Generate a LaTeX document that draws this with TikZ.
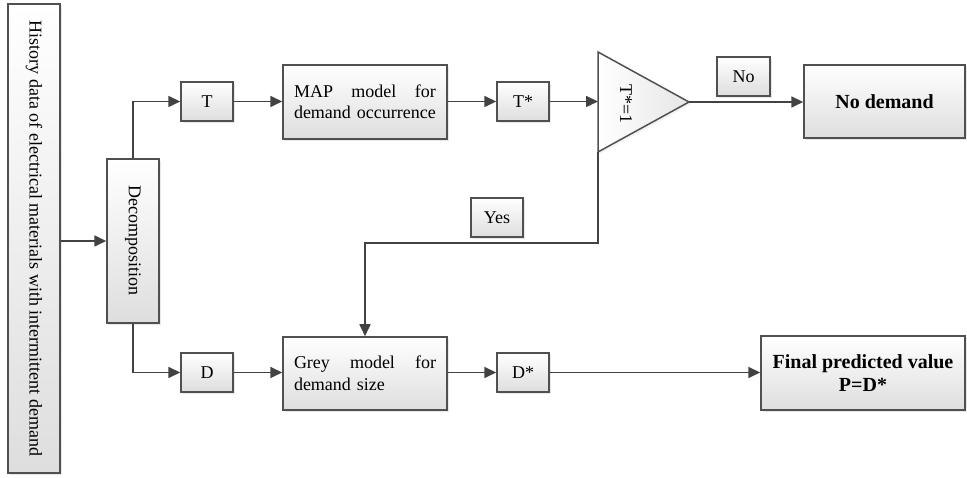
\documentclass[tikz,border=0pt]{standalone}
\usepackage{fontspec}
\setmainfont{Liberation Serif}
\usetikzlibrary{arrows.meta,shadows,calc}
\definecolor{edge}{HTML}{505050}
\definecolor{wire}{HTML}{424242}
\tikzset{
  box/.style={draw=edge, line width=1.5pt, top color=white, bottom color=black!13,
    drop shadow={opacity=0.18, shadow xshift=2pt, shadow yshift=-2pt},
    inner sep=0pt, font=\fontsize{18}{21.5}\selectfont},
  smallbox/.style={box, minimum width=52pt, minimum height=39pt},
  modelbox/.style={box, minimum width=164pt, text width=142pt, align=left},
  boldbox/.style={box, font=\fontsize{20}{23}\selectfont\bfseries, align=center},
  wirearrow/.style={draw=wire, line width=1.7pt, -{Triangle[length=12pt, width=11pt]}}
}
% a line of words spread over the full text width
\newcommand{\spreadline}[1]{\hbox to 142pt{#1}}
\begin{document}
\begin{tikzpicture}[x=1pt, y=1pt]
\useasboundingbox (0,0) rectangle (967,478);

% input data and decomposition
\node[box, minimum width=52pt, minimum height=469pt] (hist) at (34,239.5) {};
\node[rotate=-90, font=\fontsize{18}{21.5}\selectfont] (histtext) at (hist.center) {History data of electrical materials with intermittent demand};
\node[box, minimum width=52pt, minimum height=164pt] (dec) at (133,237) {};
\node[rotate=-90, font=\fontsize{18}{21.5}\selectfont] (dectext) at (dec.center) {Decomposition};

% upper branch: demand occurrence
\node[smallbox] (T) at (207,376.5) {T};
\node[modelbox, minimum height=74pt] (map) at (365,376) {\spreadline{MAP\hfill model\hfill for}\\demand occurrence};
\node[smallbox] (Ts) at (523,376.5) {T*};

% decision triangle
\coordinate (triTop) at (598,426);
\coordinate (triBot) at (598,326);
\coordinate (triApex) at (689,376);
\coordinate (triIn) at (598,376.5);
\fill[black!25, opacity=0.18] ($(triTop)+(2,-2)$) -- ($(triApex)+(2,-2)$) -- ($(triBot)+(2,-2)$) -- cycle;
\shade[left color=white, right color=black!10] (triTop) -- (triApex) -- (triBot) -- cycle;
\draw[edge, line width=1.5pt, line join=miter] (triTop) -- (triApex) -- (triBot) -- cycle;
\node[rotate=-90, font=\fontsize{18}{21}\selectfont] (cond) at (626,374) {T*=1};

\node[smallbox, minimum width=53pt] (no) at (743.5,401.5) {No};
\node[boldbox, minimum width=161pt, minimum height=73pt] (nodem) at (884.5,376.5) {No demand};
\node[smallbox] (yes) at (497,260.5) {Yes};

% lower branch: demand size
\node[smallbox] (D) at (207,105.5) {D};
\node[modelbox, minimum height=73pt] (grey) at (365,104.5) {\spreadline{Grey\hfill model\hfill for}\\demand size};
\node[smallbox] (Ds) at (523,105.5) {D*};
\node[boldbox, minimum width=204pt, minimum height=74pt] (final) at (863,105) {Final predicted value\\P=D*};

% connectors
\coordinate (yesCorner) at (598,235);
\coordinate (yesTurn) at (grey.north |- yesCorner);
\draw[wirearrow] (hist.east |- dec.west) -- (dec.west);
\draw[wirearrow] (dec.north) |- (T.west);
\draw[wirearrow] (dec.south) |- (D.west);
\draw[wirearrow] (T.east) -- (T.east -| map.west);
\draw[wirearrow] (map.east |- Ts) -- (Ts.west);
\draw[wirearrow] (Ts.east) -- (triIn);
\draw[wirearrow] (triApex) -- (triApex -| nodem.west);
\draw[wirearrow] (triBot) -- (yesCorner) -- (yesTurn) -- (grey.north);
\draw[wirearrow] (D.east) -- (D.east -| grey.west);
\draw[wirearrow] (grey.east |- Ds) -- (Ds.west);
\draw[wirearrow] (Ds.east) -- (Ds.east -| final.west);
\end{tikzpicture}
\end{document}
